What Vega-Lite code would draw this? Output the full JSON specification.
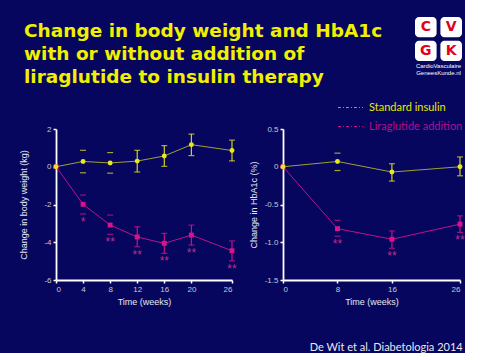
{
  "$schema": "https://vega.github.io/schema/vega-lite/v6.json",
  "background": "#06065e",
  "padding": {"left": 19, "top": 17, "right": 0, "bottom": 0},
  "config": {
    "view": {"stroke": null},
    "axis": {
      "grid": false,
      "domainColor": "#ffffff",
      "domainWidth": 1.8,
      "tickColor": "#ffffff",
      "tickWidth": 1.5,
      "tickSize": 3,
      "labelColor": "#c8c8d4",
      "labelFont": "Liberation Sans",
      "labelFontSize": 8,
      "labelPadding": 2,
      "labelOverlap": false,
      "titleColor": "#e6e6ee",
      "titleFont": "Liberation Sans",
      "titleFontSize": 9,
      "titleFontWeight": "normal"
    }
  },
  "datasets": {
    "weight": [
      {"group": "Liraglutide addition", "week": 0, "mean": 0, "lo": null, "hi": null, "sig": null},
      {"group": "Liraglutide addition", "week": 4, "mean": -1.99, "lo": -2.5, "hi": -1.5, "sig": "*"},
      {"group": "Liraglutide addition", "week": 8, "mean": -3.09, "lo": -3.58, "hi": -2.56, "sig": "**"},
      {"group": "Liraglutide addition", "week": 12, "mean": -3.72, "lo": -4.24, "hi": -3.18, "sig": "**"},
      {"group": "Liraglutide addition", "week": 16, "mean": -4.06, "lo": -4.59, "hi": -3.53, "sig": "**"},
      {"group": "Liraglutide addition", "week": 20, "mean": -3.62, "lo": -4.15, "hi": -3.09, "sig": "**"},
      {"group": "Liraglutide addition", "week": 26, "mean": -4.45, "lo": -4.99, "hi": -3.93, "sig": "**"},
      {"group": "Standard insulin", "week": 0, "mean": 0, "lo": null, "hi": null, "sig": null},
      {"group": "Standard insulin", "week": 4, "mean": 0.28, "lo": -0.32, "hi": 0.87, "sig": null},
      {"group": "Standard insulin", "week": 8, "mean": 0.2, "lo": -0.34, "hi": 0.75, "sig": null},
      {"group": "Standard insulin", "week": 12, "mean": 0.3, "lo": -0.28, "hi": 0.87, "sig": null},
      {"group": "Standard insulin", "week": 16, "mean": 0.57, "lo": 0.02, "hi": 1.12, "sig": null},
      {"group": "Standard insulin", "week": 20, "mean": 1.17, "lo": 0.59, "hi": 1.73, "sig": null},
      {"group": "Standard insulin", "week": 26, "mean": 0.86, "lo": 0.31, "hi": 1.41, "sig": null}
    ],
    "hba1c": [
      {"group": "Liraglutide addition", "week": 0, "mean": 0, "lo": null, "hi": null, "sig": null},
      {"group": "Liraglutide addition", "week": 8, "mean": -0.82, "lo": -0.92, "hi": -0.71, "sig": "**"},
      {"group": "Liraglutide addition", "week": 16, "mean": -0.96, "lo": -1.08, "hi": -0.85, "sig": "**"},
      {"group": "Liraglutide addition", "week": 26, "mean": -0.76, "lo": -0.87, "hi": -0.65, "sig": "**"},
      {"group": "Standard insulin", "week": 0, "mean": 0, "lo": null, "hi": null, "sig": null},
      {"group": "Standard insulin", "week": 8, "mean": 0.07, "lo": -0.05, "hi": 0.18, "sig": null},
      {"group": "Standard insulin", "week": 16, "mean": -0.07, "lo": -0.19, "hi": 0.04, "sig": null},
      {"group": "Standard insulin", "week": 26, "mean": 0.0, "lo": -0.12, "hi": 0.13, "sig": null}
    ]
  },
  "spacing": 8,
  "vconcat": [
    {
      "spacing": 29,
      "hconcat": [
        {
          "width": 330,
          "height": 69,
          "data": {"values": [
            {"line": 1, "text": "Change in body weight and HbA1c"},
            {"line": 2, "text": "with or without addition of"},
            {"line": 3, "text": "liraglutide to insulin therapy"}
          ]},
          "mark": {"type": "text", "align": "left", "baseline": "middle", "dx": -32, "dy": 2, "font": "DejaVu Sans", "fontWeight": "bold", "fontSize": 18.5, "color": "#f0f000"},
          "encoding": {
            "x": {"datum": 0, "type": "quantitative", "scale": {"domain": [0, 1]}, "axis": null},
            "y": {"field": "line", "type": "ordinal", "scale": {"type": "band", "paddingInner": 0, "paddingOuter": 0}, "axis": null},
            "text": {"field": "text"}
          }
        },
        {
          "width": 47,
          "height": 44,
          "data": {"values": [
            {"letter": "C", "col": 1, "row": 1},
            {"letter": "V", "col": 2, "row": 1},
            {"letter": "G", "col": 1, "row": 2},
            {"letter": "K", "col": 2, "row": 2}
          ]},
          "title": {"text": ["CardioVasculaire", "GeneesKunde.nl"], "orient": "bottom", "anchor": "middle", "font": "Liberation Sans", "fontSize": 6, "fontWeight": "normal", "color": "#ffffff", "offset": 2, "lineHeight": 6.5},
          "encoding": {
            "x": {"field": "col", "type": "ordinal", "scale": {"paddingInner": 0.15, "paddingOuter": 0}, "axis": null},
            "y": {"field": "row", "type": "ordinal", "scale": {"paddingInner": 0.15, "paddingOuter": 0}, "axis": null}
          },
          "layer": [
            {"mark": {"type": "rect", "fill": "#ffffff", "cornerRadius": 4}},
            {"mark": {"type": "text", "font": "DejaVu Sans", "fontWeight": "bold", "fontSize": 14, "color": "#e2001a", "baseline": "middle"},
             "encoding": {"text": {"field": "letter"}}}
          ]
        }
      ]
    },
    {
      "spacing": 12,
      "resolve": {"legend": {"color": "independent"}},
      "hconcat": [
        {
          "width": 176,
          "height": 151,
          "data": {"name": "weight"},
          "encoding": {
            "x": {"field": "week", "type": "quantitative", "scale": {"domain": [0, 26], "nice": false}, "axis": {"values": [0, 4, 8, 12, 16, 20, 26], "tickCount": 20, "labelExpr": "format(datum.value, 'd')", "title": "Time (weeks)", "titlePadding": 4}}
          },
          "layer": [
            {
              "data": {"values": [{}]},
              "mark": {"type": "rule", "color": "#9a9ac8", "strokeWidth": 1, "strokeDash": [4, 2]},
              "encoding": {"x": {"datum": 0, "type": "quantitative"}, "x2": {"datum": 26}, "y": {"datum": 0, "type": "quantitative"}}
            },
            {
              "mark": {"type": "line", "strokeWidth": 1},
              "encoding": {
                "y": {"field": "mean", "type": "quantitative", "title": "Change in body weight (kg)", "scale": {"domain": [-6, 2], "nice": false}, "axis": {"values": [-6, -4, -2, 0, 2], "tickCount": 20, "titlePadding": 15, "labelExpr": "replace(format(datum.value, 'd'), '\u2212', '-')"}},
                "color": {"field": "group", "type": "nominal", "scale": {"domain": ["Standard insulin", "Liraglutide addition"], "range": ["#a0a030", "#c0108c"]}, "legend": null}
              }
            },
            {
              "transform": [{"filter": "datum.week > 8"}],
              "mark": {"type": "rule", "strokeWidth": 1.2},
              "encoding": {
                "y": {"field": "lo", "type": "quantitative", "title": "Change in body weight (kg)"},
                "y2": {"field": "hi"},
                "stroke": {"field": "group", "type": "nominal", "scale": {"domain": ["Standard insulin", "Liraglutide addition"], "range": ["#d0d020", "#c8108c"]}, "legend": null}
              }
            },
            {
              "transform": [{"fold": ["lo", "hi"], "as": ["bound", "val"]}, {"filter": "isValid(datum.val)"}],
              "mark": {"type": "tick", "orient": "horizontal", "size": 6, "thickness": 1.2},
              "encoding": {
                "y": {"field": "val", "type": "quantitative", "title": "Change in body weight (kg)"},
                "fill": {"field": "group", "type": "nominal", "scale": {"domain": ["Standard insulin", "Liraglutide addition"], "range": ["#e8e820", "#d8148c"]}, "legend": null}
              }
            },
            {
              "mark": {"type": "point", "filled": true, "size": 24, "opacity": 1},
              "encoding": {
                "y": {"field": "mean", "type": "quantitative", "title": "Change in body weight (kg)"},
                "fill": {"field": "group", "type": "nominal", "scale": {"domain": ["Standard insulin", "Liraglutide addition"], "range": ["#e8e820", "#d8148c"]}, "legend": null},
                "shape": {"field": "group", "type": "nominal", "scale": {"domain": ["Standard insulin", "Liraglutide addition"], "range": ["circle", "square"]}, "legend": null}
              }
            },
            {
              "transform": [{"filter": "datum.sig != null"}],
              "mark": {"type": "text", "baseline": "top", "dy": 3, "font": "Liberation Sans", "fontSize": 12, "color": "#b8308c"},
              "encoding": {
                "y": {"field": "lo", "type": "quantitative", "title": "Change in body weight (kg)"},
                "text": {"field": "sig"}
              }
            }
          ]
        },
        {
          "width": 177,
          "height": 151,
          "data": {"name": "hba1c"},
          "title": {"text": "De Wit et al. Diabetologia 2014", "orient": "bottom", "anchor": "end", "font": "Lato", "fontSize": 11, "fontWeight": "normal", "color": "#e8e8f0", "offset": 36, "dx": -2},
          "encoding": {
            "x": {"field": "week", "type": "quantitative", "scale": {"domain": [0, 26], "nice": false}, "axis": {"values": [0, 8, 16, 26], "tickCount": 20, "labelExpr": "format(datum.value, 'd')", "title": "Time (weeks)", "titlePadding": 4}}
          },
          "layer": [
            {
              "data": {"values": [{}]},
              "mark": {"type": "rule", "color": "#9a9ac8", "strokeWidth": 1, "strokeDash": [4, 2]},
              "encoding": {"x": {"datum": 0, "type": "quantitative"}, "x2": {"datum": 26}, "y": {"datum": 0, "type": "quantitative"}}
            },
            {
              "mark": {"type": "line", "strokeWidth": 1},
              "encoding": {
                "y": {"field": "mean", "type": "quantitative", "title": "Change in HbA1c (%)", "scale": {"domain": [-1.5, 0.5], "nice": false}, "axis": {"values": [-1.5, -1, -0.5, 0, 0.5], "tickCount": 20, "titlePadding": 6, "labelExpr": "datum.value == 0 ? '0' : replace(format(datum.value, '.1f'), '\u2212', '-')"}},
                "color": {"field": "group", "type": "nominal", "scale": {"domain": ["Standard insulin", "Liraglutide addition"], "range": ["#a0a030", "#c0108c"]},
                  "legend": {
                    "orient": "none", "legendX": 54, "legendY": -35, "title": null,
                    "symbolType": "stroke", "symbolSize": 625, "symbolStrokeWidth": 1.2, "symbolDash": [3, 2, 1, 2],
                    "labelFont": "Lato", "labelFontSize": 11, "labelOffset": 5, "rowPadding": -6,
                    "encode": {
                      "labels": {"update": {"fill": {"signal": "datum.value == 'Standard insulin' ? '#e6e600' : '#b0108c'"}}},
                      "symbols": {"update": {"stroke": {"signal": "datum.value == 'Standard insulin' ? '#e6e600' : '#b0108c'"}}}
                    }
                  }
                }
              }
            },
            {
              "transform": [{"filter": "datum.week > 8"}],
              "mark": {"type": "rule", "strokeWidth": 1.2},
              "encoding": {
                "y": {"field": "lo", "type": "quantitative", "title": "Change in HbA1c (%)"},
                "y2": {"field": "hi"},
                "stroke": {"field": "group", "type": "nominal", "scale": {"domain": ["Standard insulin", "Liraglutide addition"], "range": ["#d0d020", "#c8108c"]}, "legend": null}
              }
            },
            {
              "transform": [{"fold": ["lo", "hi"], "as": ["bound", "val"]}, {"filter": "isValid(datum.val)"}],
              "mark": {"type": "tick", "orient": "horizontal", "size": 6, "thickness": 1.2},
              "encoding": {
                "y": {"field": "val", "type": "quantitative", "title": "Change in HbA1c (%)"},
                "fill": {"field": "group", "type": "nominal", "scale": {"domain": ["Standard insulin", "Liraglutide addition"], "range": ["#e8e820", "#d8148c"]}, "legend": null}
              }
            },
            {
              "mark": {"type": "point", "filled": true, "size": 24, "opacity": 1},
              "encoding": {
                "y": {"field": "mean", "type": "quantitative", "title": "Change in HbA1c (%)"},
                "fill": {"field": "group", "type": "nominal", "scale": {"domain": ["Standard insulin", "Liraglutide addition"], "range": ["#e8e820", "#d8148c"]}, "legend": null},
                "shape": {"field": "group", "type": "nominal", "scale": {"domain": ["Standard insulin", "Liraglutide addition"], "range": ["circle", "square"]}, "legend": null}
              }
            },
            {
              "transform": [{"filter": "datum.sig != null"}],
              "mark": {"type": "text", "baseline": "top", "dy": 3, "font": "Liberation Sans", "fontSize": 12, "color": "#b8308c"},
              "encoding": {
                "y": {"field": "lo", "type": "quantitative", "title": "Change in HbA1c (%)"},
                "text": {"field": "sig"}
              }
            }
          ]
        }
      ]
    }
  ]
}
